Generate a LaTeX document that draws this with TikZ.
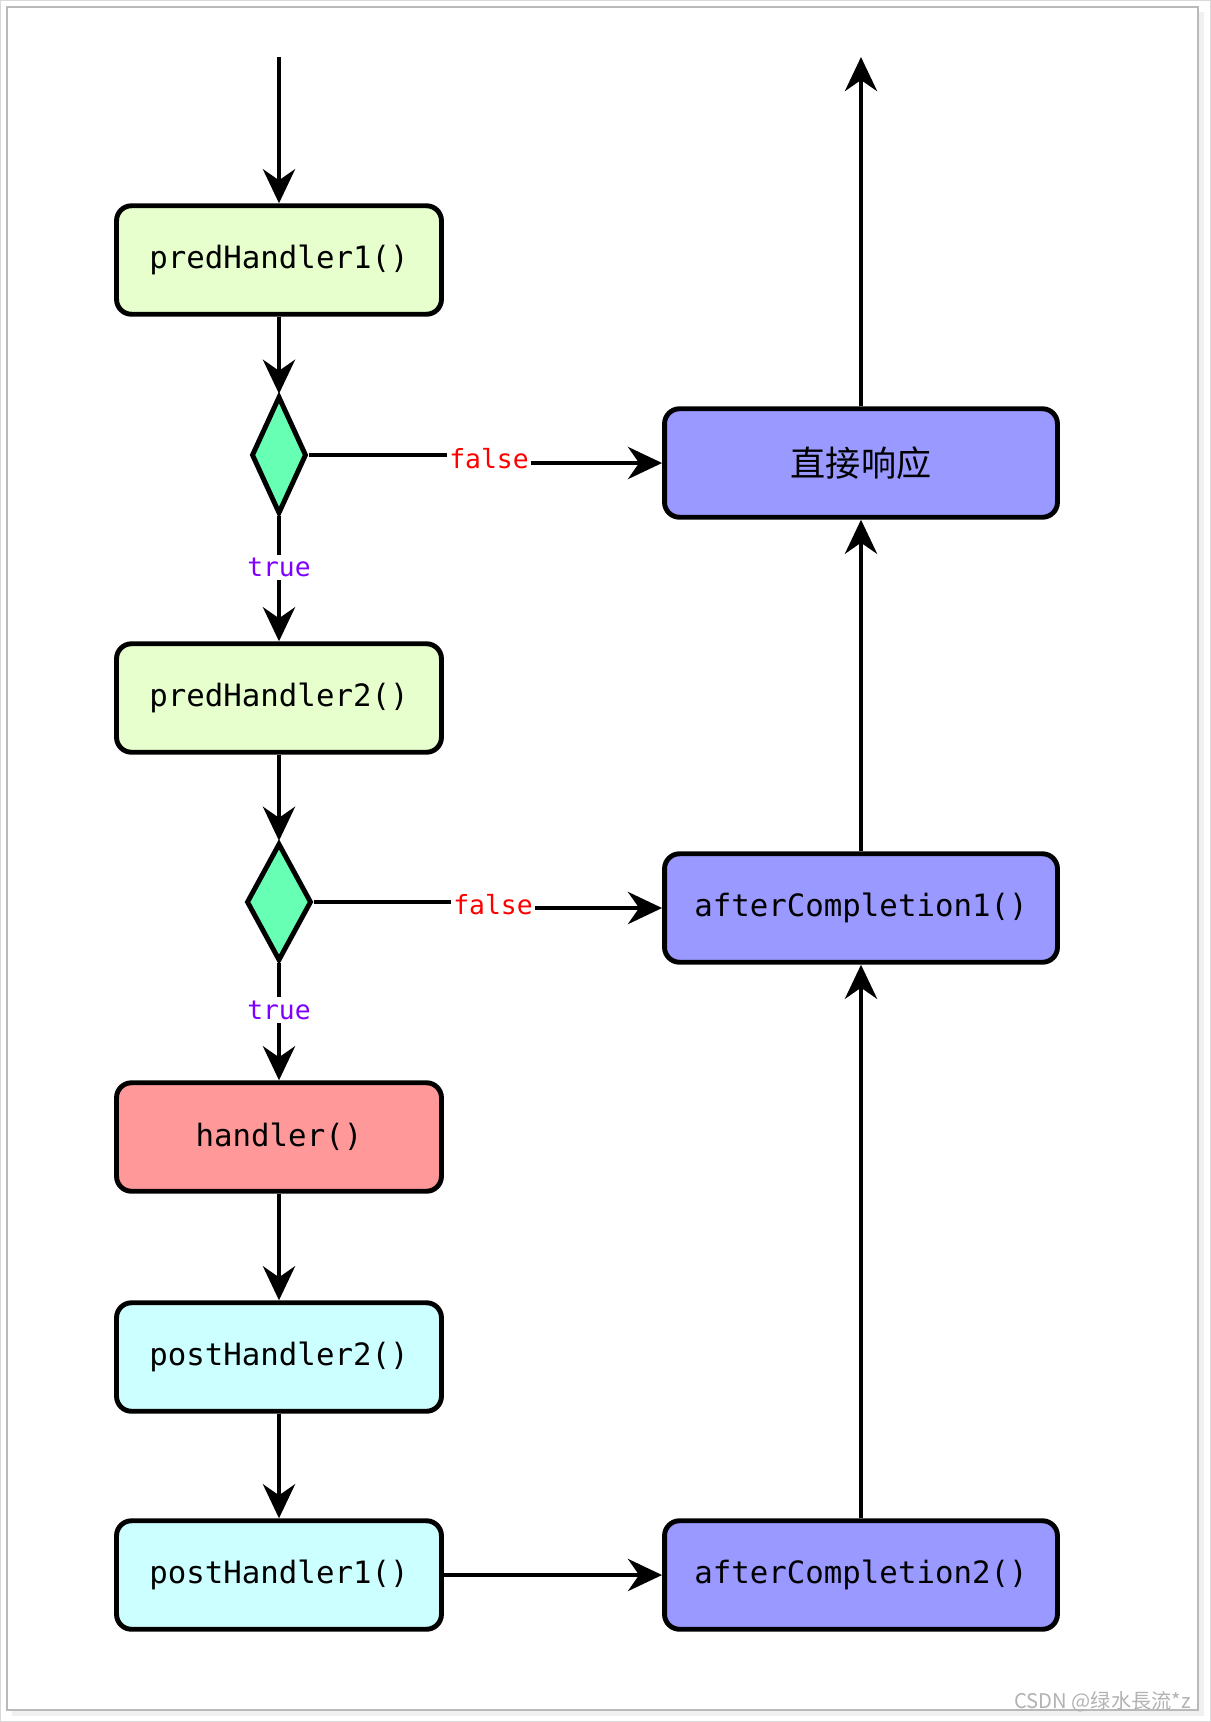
\documentclass[tikz,border=0pt]{standalone}
\usepackage{fontspec}
\setmonofont{DejaVu Sans Mono}
\newfontfamily\cjk{Noto Sans CJK SC}
\usetikzlibrary{arrows.meta,positioning,shapes.geometric}
\definecolor{cPre}{HTML}{E6FFCC}
\definecolor{cDia}{HTML}{66FFB3}
\definecolor{cHan}{HTML}{FF9999}
\definecolor{cPost}{HTML}{CCFFFF}
\definecolor{cAft}{HTML}{9999FF}
\definecolor{cTrue}{HTML}{7F00FF}

\begin{document}
\begin{tikzpicture}[x=0.02cm,y=-0.02cm,
  every node/.style={font=\ttfamily\fontsize{17.5}{20}\selectfont},
  box/.style={draw,line width=2.8pt,rounded corners=0.3cm,minimum width=6.5cm,minimum height=2.17cm,inner sep=0pt},
  rbox/.style={box,fill=cAft,minimum width=7.86cm},
  dec/.style={diamond,draw,fill=cDia,line width=2.8pt,minimum width=1.1cm,minimum height=2.35cm,inner sep=0pt},
  arr/.style={-{Stealth[length=0.68cm,width=0.64cm,inset=0.22cm]},line width=2.8pt},
  ln/.style={line width=2.8pt},
  tlbl/.style={fill=white,text=cTrue,inner sep=2pt,font=\ttfamily\fontsize{15}{17}\selectfont},
  flbl/.style={text=red,inner sep=1pt,font=\ttfamily\fontsize{15}{17}\selectfont}]
  \useasboundingbox (0,0) rectangle (1211,1722);
  % frame round the page
  \draw[gray!30,line width=0.8pt] (0.5,0.5) rectangle (1210.5,1721.5);
  \fill[gray!12] (12,1710) rectangle (1204,1716);
  \fill[gray!12] (1198,12) rectangle (1204,1716);
  \draw[gray!55,line width=0.8pt] (7,7) rectangle (1198,1710);

  % left column
  \node[box,fill=cPre] (ph1) at (279,260) {predHandler1()};
  \node[dec] (d1) at (279,455) {};
  \node[box,fill=cPre] (ph2) at (279,698) {predHandler2()};
  \node[dec,minimum width=1.3cm] (d2) at (279,902) {};
  \node[box,fill=cHan] (hd) at (279,1137) {handler()};
  \node[box,fill=cPost] (po2) at (279,1357) {postHandler2()};
  \node[box,fill=cPost] (po1) at (279,1575) {postHandler1()};

  % right column
  \node[rbox] (dr) at (861,463) {\cjk\fontsize{20}{24}\selectfont 直接响应};
  \node[rbox] (ac1) at (861,908) {afterCompletion1()};
  \node[rbox] (ac2) at (861,1575) {afterCompletion2()};

  \coordinate (in) at (279,57);
  \coordinate (out) at (861,57);
  \node[flbl] (f1) at (489,459) {false};
  \node[flbl] (f2) at (493,905) {false};

  \draw[arr] (in) -- (ph1);
  \draw[arr] (ph1) -- (d1);
  \draw[arr] (d1) -- node[tlbl,pos=0.41] {true} (ph2);
  \draw[ln] (d1.east) -- (d1.east -| f1.west);
  \draw[arr] (f1.east |- dr.west) -- (dr.west);
  \draw[arr] (ph2) -- (d2);
  \draw[arr] (d2) -- node[tlbl,pos=0.4] {true} (hd);
  \draw[ln] (d2.east) -- (d2.east -| f2.west);
  \draw[arr] (f2.east |- ac1.west) -- (ac1.west);
  \draw[arr] (hd) -- (po2);
  \draw[arr] (po2) -- (po1);
  \draw[arr] (po1) -- (ac2);
  \draw[arr] (ac2) -- (ac1);
  \draw[arr] (ac1) -- (dr);
  \draw[arr] (dr) -- (out);

  \node[font=\cjk\fontsize{11.5}{13}\selectfont,text=gray!60,anchor=east] (wm) at (1197,1702) {CSDN @绿水長流*z};
\end{tikzpicture}
\end{document}
